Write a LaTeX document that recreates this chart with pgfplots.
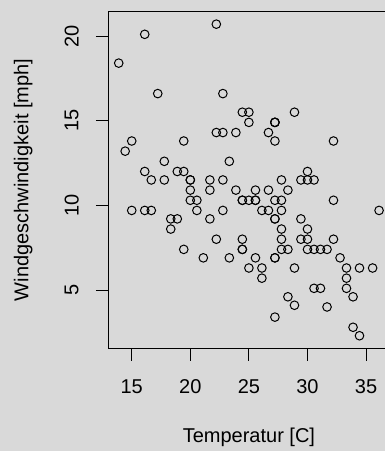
\documentclass[border=0pt]{standalone}
\usepackage{fontspec}
\setmainfont{Liberation Sans}
\usepackage{pgfplots}
\pgfplotsset{compat=1.18}
\definecolor{bg}{RGB}{217,217,217}
\begin{document}
\begin{tikzpicture}[x=1pt,y=1pt]
\fill[bg] (0,0) rectangle (385,451);
\begin{axis}[
  at={(108.3pt,102.8pt)}, anchor=south west,
  scale only axis, width=281.2pt, height=336.5pt,
  xmin=13.0, xmax=37.0, ymin=1.564, ymax=21.436,
  axis line style={black, line width=1.2pt},
  xtick={15,20,25,30,35}, ytick={5,10,15,20},
  xtick pos=bottom, ytick pos=left,
  tick align=outside, major tick length=12.5pt,
  tick style={black, line width=1pt},
  font=\fontsize{20}{23}\selectfont,
  /pgf/number format/assume math mode=true,
  xticklabel style={anchor=center, yshift=-26pt},
  yticklabel style={anchor=center, xshift=-24.1pt, rotate=90},
  xlabel={Temperatur [C]}, ylabel={Windgeschwindigkeit [mph]},
  xlabel style={at={(axis description cs:0.5,0)}, anchor=center, yshift=-89.5pt},
  ylabel style={at={(axis description cs:0,0.5)}, anchor=center, yshift=85pt},
  clip=false,
]
\addplot[only marks, mark=o, mark size=4.3pt, mark options={line width=1pt, black}] coordinates {
(19.44,7.4) (22.22,8.0) (23.33,12.6) (16.67,11.5) (18.33,8.6) (15.00,13.8) (16.11,20.1)
(20.56,9.7) (18.89,9.2) (20.00,10.9) (14.44,13.2) (17.78,11.5) (18.89,12.0) (13.89,18.4)
(20.00,11.5) (16.67,9.7) (15.00,9.7) (22.78,16.6) (16.11,9.7) (16.11,12.0) (19.44,12.0)
(27.22,14.9) (26.11,5.7) (24.44,7.4) (27.78,9.7) (32.22,13.8) (30.56,11.5) (27.78,8.0)
(25.00,14.9) (22.22,20.7) (18.33,9.2) (22.78,11.5) (24.44,10.3) (28.89,4.1) (29.44,9.2)
(27.22,9.2) (28.33,4.6) (28.33,10.9) (31.11,5.1) (33.33,6.3) (33.33,5.7) (31.67,7.4)
(22.78,14.3) (27.22,14.9) (26.67,14.3) (27.22,6.9) (27.78,10.3) (28.89,6.3) (30.56,5.1)
(29.44,11.5) (23.33,6.9) (30.00,8.6) (29.44,8.0) (27.78,8.6) (30.00,12.0) (31.11,7.4)
(30.00,7.4) (28.33,7.4) (27.22,9.2) (27.22,6.9) (27.22,13.8) (27.78,7.4) (31.67,4.0)
(32.22,10.3) (32.22,8.0) (30.00,11.5) (27.78,11.5) (26.67,9.7) (25.00,10.3) (26.11,6.3)
(24.44,7.4) (25.56,10.9) (25.56,10.3) (25.00,15.5) (22.22,14.3) (26.11,9.7) (27.22,3.4)
(30.00,8.0) (36.11,9.7) (34.44,2.3) (35.56,6.3) (34.44,6.3) (32.78,6.9) (33.33,5.1)
(33.89,2.8) (33.89,4.6) (30.56,7.4) (28.89,15.5) (26.67,10.9) (25.56,10.3) (23.89,10.9)
(22.78,9.7) (27.22,14.9) (24.44,15.5) (25.00,6.3) (21.67,10.9) (21.67,11.5) (25.56,6.9)
(19.44,13.8) (24.44,10.3) (20.00,10.3) (17.78,12.6) (21.67,9.2) (27.22,10.3) (20.56,10.3)
(17.22,16.6) (21.11,6.9) (23.89,14.3) (24.44,8.0) (20.00,11.5)
};
\end{axis}
\pgfresetboundingbox
\useasboundingbox (0,0) rectangle (385,451);
\end{tikzpicture}
\end{document}
